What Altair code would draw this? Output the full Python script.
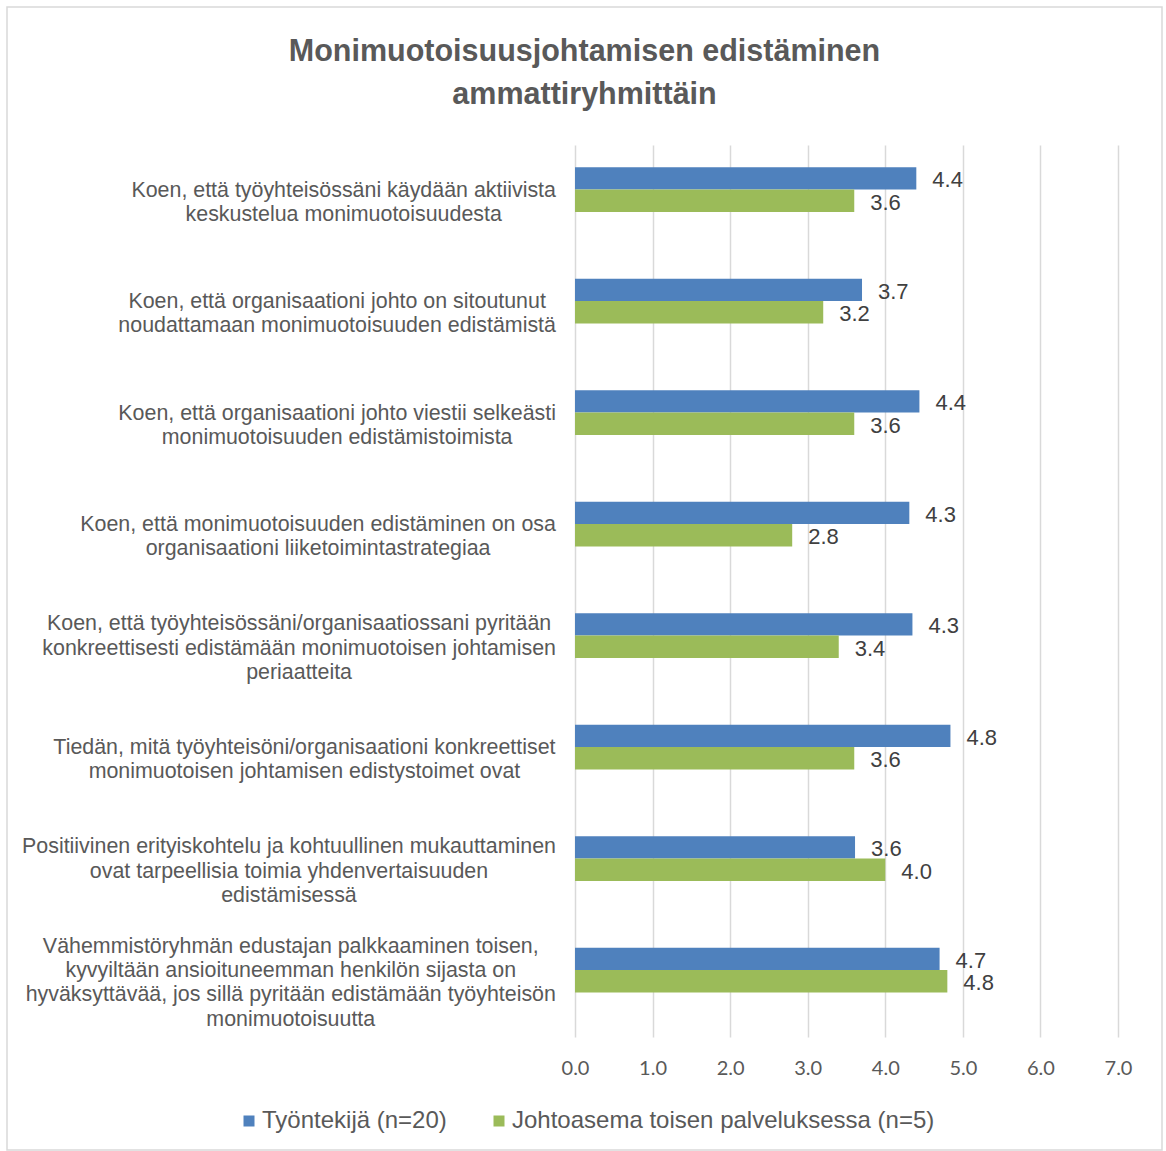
import altair as alt
import pandas as pd

title_lines = ["Monimuotoisuusjohtamisen edistäminen", "ammattiryhmittäin"]

categories = [
    "Koen, että työyhteisössäni käydään aktiivista|keskustelua monimuotoisuudesta",
    "Koen, että organisaationi johto on sitoutunut|noudattamaan monimuotoisuuden edistämistä",
    "Koen, että organisaationi johto viestii selkeästi|monimuotoisuuden edistämistoimista",
    "Koen, että monimuotoisuuden edistäminen on osa|organisaationi liiketoimintastrategiaa",
    "Koen, että työyhteisössäni/organisaatiossani pyritään|konkreettisesti edistämään monimuotoisen johtamisen|periaatteita",
    "Tiedän, mitä työyhteisöni/organisaationi konkreettiset|monimuotoisen johtamisen edistystoimet ovat",
    "Positiivinen erityiskohtelu ja kohtuullinen mukauttaminen|ovat tarpeellisia toimia yhdenvertaisuuden|edistämisessä",
    "Vähemmistöryhmän edustajan palkkaaminen toisen,|kyvyiltään ansioituneemman henkilön sijasta on|hyväksyttävää, jos sillä pyritään edistämään työyhteisön|monimuotoisuutta",
]
series = ["Työntekijä (n=20)", "Johtoasema toisen palveluksessa (n=5)"]
tyontekija = [4.40, 3.70, 4.44, 4.31, 4.35, 4.84, 3.61, 4.70]
johtoasema = [3.60, 3.20, 3.60, 2.80, 3.40, 3.60, 4.00, 4.80]
x_ticks = [0, 1, 2, 3, 4, 5, 6, 7]
colors = ["#4f81bd", "#9bbb59"]

# --- layout constants ---
W, H = 543, 892
LABEL_FS = 21.4
LINE_H = 24.3
LABEL_GAP = 19

# approximate Arial / Liberation Sans advance widths (em)
_w = {c: 0.556 for c in "abdeghnopqu0123456789äö"}
_w.update({c: 0.5 for c in "ckvsxyz"})
_w.update({c: 0.222 for c in "ijl"})
_w.update({"f": 0.278, "t": 0.278, "r": 0.333, "m": 0.833, "w": 0.722,
           " ": 0.278, ",": 0.278, "/": 0.278, ".": 0.278, "T": 0.611})


def text_width(s, fs):
    return sum(_w.get(ch, 0.667) for ch in s) * fs


label_x = [-LABEL_GAP - max(text_width(l, LABEL_FS) for l in c.split("|")) / 2 for c in categories]
line_counts = [len(c.split("|")) for c in categories]

rows = []
for c, a, b in zip(categories, tyontekija, johtoasema):
    rows.append({"cat": c, "series": series[0], "value": a})
    rows.append({"cat": c, "series": series[1], "value": b})
df = pd.DataFrame(rows)
df_cat = pd.DataFrame({"cat": categories, "lx": label_x, "n": line_counts})

y_scale = alt.Scale(domain=categories, paddingInner=0, paddingOuter=0)
off_scale = alt.Scale(domain=["_p1", series[0], series[1], "_p2", "_p3"], paddingInner=0, paddingOuter=0)

base = alt.Chart(df).encode(
    y=alt.Y("cat:N", scale=y_scale, axis=None),
    yOffset=alt.YOffset("series:N", scale=off_scale),
)

bars = base.mark_bar().encode(
    x=alt.X("value:Q", scale=alt.Scale(domain=[0, 7], nice=False),
            axis=alt.Axis(values=x_ticks, format=".1f", grid=True, gridColor="#d9d9d9",
                          gridWidth=1.5, domain=False, ticks=False, labelFont="Lato",
                          labelFontSize=20, labelColor="#595959", labelPadding=21,
                          labelFlush=False, title=None)),
    color=alt.Color("series:N", scale=alt.Scale(domain=series, range=colors),
                    legend=alt.Legend(orient="none", legendX=-338, legendY=964,
                                      direction="horizontal", title=None, symbolType="square",
                                      symbolSize=121, symbolStrokeWidth=0,
                                      labelFont="Liberation Sans", labelFontSize=24,
                                      labelColor="#595959", labelOffset=1, columnPadding=40,
                                      labelLimit=700)),
)

values = base.mark_text(align="left", baseline="middle", dx=16, dy=2, fontSize=22,
                        font="Liberation Sans", color="#404040").encode(
    x=alt.X("value:Q"),
    text=alt.Text("value:Q", format=".1f"),
)

label_layers = []
for n in sorted(set(line_counts)):
    label_layers.append(
        alt.Chart(df_cat).transform_filter(alt.datum.n == n).mark_text(
            align="center", baseline="middle", lineBreak="|", lineHeight=LINE_H,
            dy=2 - (n - 1) * LINE_H / 2,
            fontSize=LABEL_FS, font="Liberation Sans", color="#595959",
        ).encode(
            y=alt.Y("cat:N", scale=y_scale, axis=None),
            x=alt.X("lx:Q", scale=None, axis=None),
            text="cat:N",
        )
    )

border = alt.Chart(pd.DataFrame({"k": [0]})).mark_rect(
    fillOpacity=0, stroke="#d9d9d9", strokeWidth=1.5,
).encode(
    x=alt.value(-568), x2=alt.value(587), y=alt.value(-138), y2=alt.value(1005),
)

chart = alt.layer(border, bars, values, *label_layers).properties(
    width=W, height=H,
    padding={"left": 6, "top": 6, "right": 2, "bottom": 0},
    title=alt.Title(text=title_lines, font="Liberation Sans", fontSize=30.5, fontWeight="bold",
                    color="#595959", lineHeight=43, anchor="middle", frame="bounds", offset=-104),
).configure_view(stroke=None)

chart.save("out.html", embed_options={"renderer": "svg", "actions": False})
